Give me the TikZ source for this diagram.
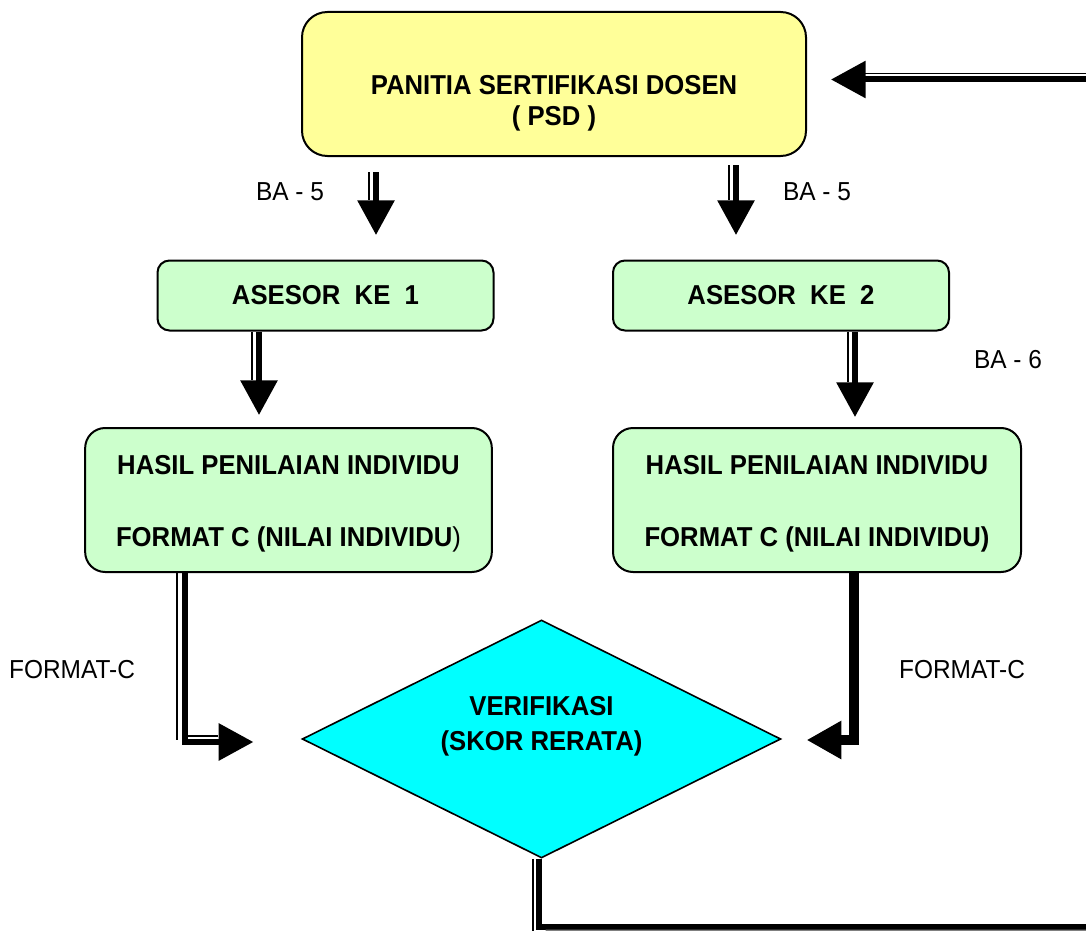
\documentclass[tikz,border=0pt]{standalone}
\usepackage{fontspec}
\setmainfont{Liberation Sans}[FakeStretch=0.94]
\usetikzlibrary{shapes.geometric,arrows.meta,calc}
\definecolor{kuning}{RGB}{255,255,153}
\definecolor{hijau}{RGB}{204,255,204}
\definecolor{biru}{RGB}{0,255,255}
\begin{document}
\begin{tikzpicture}[x=0.75pt,y=-0.75pt,
  kotak/.style={draw,line width=1.5pt,rounded corners=9pt,fill=hijau,font=\fontsize{20.5}{24}\selectfont\bfseries,align=center},
  judul/.style={font=\fontsize{20.5}{23.5}\selectfont\bfseries,align=center},
  ket/.style={font=\fontsize{19.5}{23}\selectfont},
  batang/.style={line width=4.5pt},
  tebal/.style={batang,-{Triangle[length=26pt,width=27pt]}},
  tipis/.style={line width=1.2pt}]
  \useasboundingbox (0,0) rectangle (1086,931);
  \node[kotak,fill=kuning,rounded corners=19pt,minimum width=378pt,minimum height=108pt] (psd) at (554,84) {};
  \node[judul] (psdteks) at (554,103.5) {PANITIA SERTIFIKASI DOSEN\\( PSD )};
  \node[kotak,minimum width=252pt,minimum height=52.5pt] (ases1) at (325.5,295.5) {ASESOR\ \ KE\ \ 1};
  \node[kotak,minimum width=252pt,minimum height=52.5pt] (ases2) at (781,295.5) {ASESOR\ \ KE\ \ 2};
  \node[kotak,rounded corners=15pt,minimum width=305pt,minimum height=108pt] (hasil1) at (288.5,500) {};
  \node[judul,font=\fontsize{20.5}{24}\selectfont\bfseries] (hasil1teks) at (288.5,504) {HASIL PENILAIAN INDIVIDU\\[30pt]FORMAT C (NILAI INDIVIDU\textmd{)}};
  \node[kotak,rounded corners=15pt,minimum width=306pt,minimum height=108pt] (hasil2) at (817,500) {};
  \node[judul,font=\fontsize{20.5}{24}\selectfont\bfseries] (hasil2teks) at (817,504) {HASIL PENILAIAN INDIVIDU\\[30pt]FORMAT C (NILAI INDIVIDU)};
  \node[diamond,draw,line width=1.2pt,fill=biru,minimum width=359pt,minimum height=178.5pt,inner sep=0pt] (verif) at (541.5,739) {};
  \node[judul,font=\fontsize{20.5}{26}\selectfont\bfseries] (verifteks) at (541.5,726.5) {VERIFIKASI\\(SKOR RERATA)};
  \coordinate (masuk) at (1090,79.5);
  \coordinate (keluar) at (1090,927);
  \draw[tebal] (masuk) -- ($(psd.east)+(24,-4.5)$);
  \draw[tipis] ($(masuk)+(0,-6)$) -- ($(psd.east)+(58,-10.5)$);
  \draw[tebal] ($(psd.south)+(-178,15)$) -- ($(ases1.north)+(50.5,-24.5)$);
  \draw[tipis] ($(psd.south)+(-185,15)$) -- ($(ases1.north)+(43.5,-59.5)$);
  \draw[tebal] ($(psd.south)+(182,8)$) -- ($(ases2.north)+(-45,-24.5)$);
  \draw[tipis] ($(psd.south)+(175,8)$) -- ($(ases2.north)+(-52,-59.5)$);
  \draw[tebal] ($(ases1.south)+(-66.5,0)$) -- ($(hasil1.north)+(-29.5,-12)$);
  \draw[tipis] ($(ases1.south)+(-73.5,0)$) -- ($(hasil1.north)+(-36.5,-47)$);
  \draw[tebal] ($(ases2.south)+(74,0)$) -- ($(hasil2.north)+(38,-10)$);
  \draw[tipis] ($(ases2.south)+(67,0)$) -- ($(hasil2.north)+(31,-45)$);
  \draw[tebal] ($(hasil1.south)+(-103.5,0)$) |- ($(verif.west)+(-48,3)$);
  \draw[tipis] ($(hasil1.south)+(-111.5,0)$) -- ++(0,167);
  \draw[tipis] ($(verif.west)+(-113,-3)$) -- ($(verif.west)+(-83,-3)$);
  \draw[tebal,line width=7.5pt] ($(hasil2.south)+(36.5,0)$) |- ($(verif.east)+(25,1)$);
  \draw[batang] ($(verif.south)+(-2.5,0)$) |- (keluar);
  \draw[tipis] ($(verif.south)+(-8.5,0)$) -- ++(0,75);
  \draw[tipis,gray] ($(verif.south)+(4,71.5)$) -- ($(keluar)+(0,3.5)$);
  \node[ket] (ba5kiri) at (290,192) {BA - 5};
  \node[ket] (ba5kanan) at (817,192) {BA - 5};
  \node[ket] (ba6) at (1008,360) {BA - 6};
  \node[ket] (fmtkiri) at (72,670) {FORMAT-C};
  \node[ket] (fmtkanan) at (962,670) {FORMAT-C};
\end{tikzpicture}
\end{document}
